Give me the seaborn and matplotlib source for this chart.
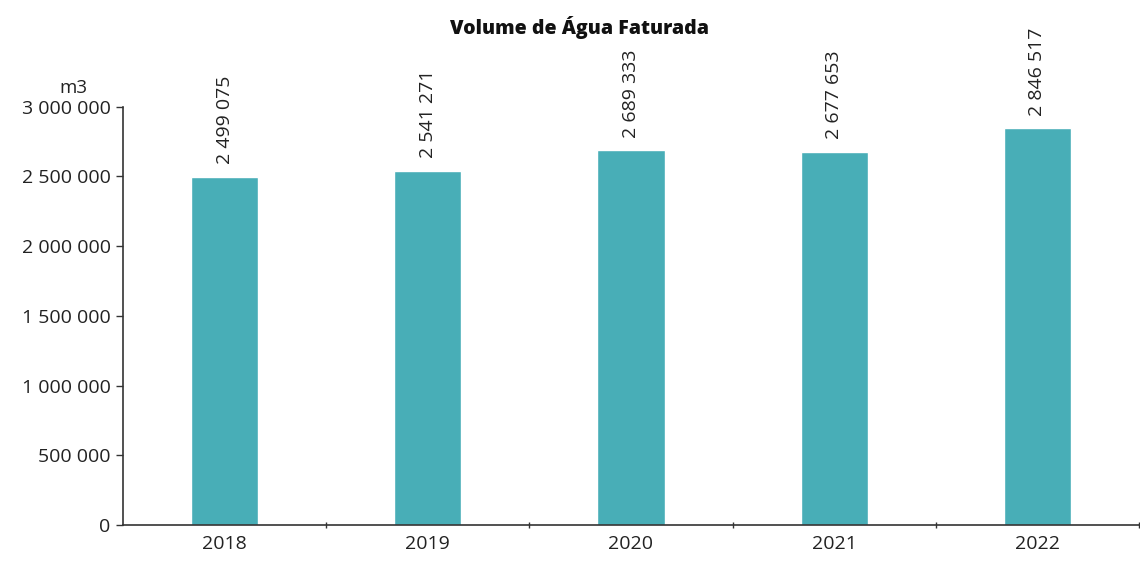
import matplotlib
matplotlib.use("Agg")
import matplotlib.pyplot as plt
import seaborn as sns
import pandas as pd

years = ["2018", "2019", "2020", "2021", "2022"]
volumes = [2499075, 2541271, 2689333, 2677653, 2846517]
yticks = [0, 500000, 1000000, 1500000, 2000000, 2500000, 3000000]

def fmt(v):
    return f"{v:,}".replace(",", " ")

sns.set_theme(style="white")
plt.rcParams['font.family'] = ['Open Sans', 'DejaVu Sans']

df = pd.DataFrame({"year": years, "volume": volumes})

FS = 14

fig = plt.figure(figsize=(11.4, 5.65), dpi=100)
ax = fig.add_axes([0.108, 0.071, 0.891, 0.740])
sns.barplot(data=df, x="year", y="volume", color="#48AEB7", saturation=1,
            width=0.33, ax=ax)

ax.set_ylim(0, 3000000)
ax.set_xlim(-0.5, len(years) - 0.5)
ax.set_yticks(yticks)
ax.set_yticklabels([fmt(v) for v in yticks], fontsize=FS, color="#222222")
ax.tick_params(axis="x", labelsize=FS, colors="#222222", length=0, pad=7)
ax.tick_params(axis="y", length=5, width=1, color="#333333", left=True, pad=4)
ax.set_xticks(range(len(years)))
ax.set_xticklabels(years)
# category boundary ticks
ax.set_xticks([i + 0.5 for i in range(len(years))], minor=True)
ax.tick_params(axis="x", which="minor", length=5, width=1, color="#333333", bottom=True, direction="inout")

ax.set_xlabel("")
ax.set_ylabel("")
for s in ["top", "right"]:
    ax.spines[s].set_visible(False)
for s in ["left", "bottom"]:
    ax.spines[s].set_color("#333333")
    ax.spines[s].set_linewidth(1.2)

for i, v in enumerate(volumes):
    ax.annotate(fmt(v), xy=(i, v), xytext=(0, 9), textcoords="offset points",
                rotation=90, ha="center", va="bottom", fontsize=FS,
                color="#222222", annotation_clip=False)

fig.text(0.064, 0.845, "m3", ha="center", va="center", fontsize=FS - 0.5, color="#222222")
fig.text(0.508, 0.952, "Volume de Água Faturada", ha="center", va="center",
         fontsize=14, fontweight="heavy", color="#111111")

fig.savefig("out.png", dpi=100, facecolor="white")
